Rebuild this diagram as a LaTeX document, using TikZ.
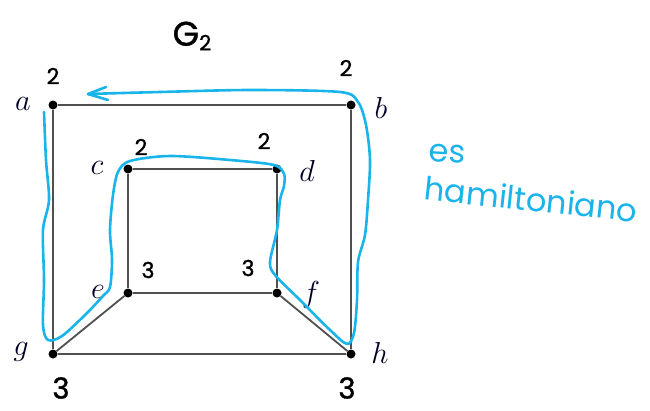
\documentclass[tikz,border=0pt]{standalone}
\usepackage{graphicx}
\usepackage{fontspec}
\newfontfamily\hand{Poppins}[FakeBold=1.2]
\newfontfamily\handthin{Poppins}
\usetikzlibrary{arrows.meta}
\definecolor{edgegray}{HTML}{505050}
\definecolor{penblue}{HTML}{19B4EA}
\newcommand{\vlab}[1]{\scalebox{1.22}{$#1$}}
\tikzset{
  vtx/.style={circle,fill=black,inner sep=0pt,minimum size=9pt},
  lbl/.style={font=\fontsize{24}{24}\selectfont,text=black!85!blue},
  edge/.style={draw=edgegray,line width=1.8pt},
  deg/.style={font=\hand\fontsize{22}{22}\selectfont,text=black},
  bigdeg/.style={font=\hand\fontsize{29}{29}\selectfont,text=black},
  pen/.style={draw=penblue,line width=2.6pt,line cap=round,line join=round},
  note/.style={font=\handthin\fontsize{32}{32}\selectfont,text=penblue,inner sep=0pt},
}
\begin{document}
\begin{tikzpicture}[x=1pt,y=-1pt]
\useasboundingbox (0,0) rectangle (650,410);
% vertices
\node[vtx] (a) at (53,105) {};
\node[vtx] (b) at (351,105) {};
\node[vtx] (c) at (128,169) {};
\node[vtx] (d) at (277,169) {};
\node[vtx] (e) at (128,293) {};
\node[vtx] (f) at (277,293) {};
\node[vtx] (g) at (53,354) {};
\node[vtx] (h) at (351,354) {};
% edges
\draw[edge] (a) -- (b);
\draw[edge] (a) -- (g);
\draw[edge] (b) -- (h);
\draw[edge] (g) -- (h);
\draw[edge] (c) -- (d);
\draw[edge] (c) -- (e);
\draw[edge] (d) -- (f);
\draw[edge] (e) -- (f);
\draw[edge] (e) -- (g);
\draw[edge] (f) -- (h);
% labels
\node[lbl] (la) at (23,104) {\vlab{a}};
\node[lbl] (lb) at (381,108) {\vlab{b}};
\node[lbl] (lc) at (97,168) {\vlab{c}};
\node[lbl] (ld) at (307,171) {\vlab{d}};
\node[lbl] (le) at (98,292) {\vlab{e}};
\node[lbl] (lf) at (311,295) {\vlab{f}};
\node[lbl] (lg) at (21,352) {\vlab{g}};
\node[lbl] (lh) at (380,353) {\vlab{h}};
% title
\node[font=\hand\fontsize{34}{34}\selectfont] (title) at (192,36) {G\raisebox{-0.25ex}{\fontsize{21}{21}\selectfont 2}};
% degrees
\node[deg] (da) at (53,76) {2};
\node[deg] (db) at (346,68) {2};
\node[deg] (dc) at (141,147) {2};
\node[deg] (dd) at (264,141) {2};
\node[deg] (de) at (148,270) {3};
\node[deg] (df) at (248,268) {3};
\node[bigdeg] (dg) at (61,388) {3};
\node[bigdeg] (dh) at (347,388) {3};
% hamiltonian cycle
\draw[pen] plot[smooth,tension=0.5] coordinates {
  (44,112) (46,160) (49,200) (43,230) (44,280) (43,325) (48,340) (62,336)
  (85,315) (103,296) (110,287) (112,260) (110,230) (113,195) (118,172)
  (130,161) (170,156) (230,160) (274,165) (284,174) (284,186) (280,200)
  (277,230) (270,262) (275,275) (300,300) (330,330) (347,344) (354,333)
  (357,300) (358,262) (365,235) (368,200) (370,160) (366,125) (358,102)
  (340,92) (250,90) (160,92) (88,94)};
\draw[pen] (106,87) -- (88,94) -- (108,100);
% note
\node[note,rotate=-3] (es) at (447,154) {es};
\node[note,rotate=-6] (ham) at (531,199) {hamiltoniano};
\end{tikzpicture}
\end{document}
